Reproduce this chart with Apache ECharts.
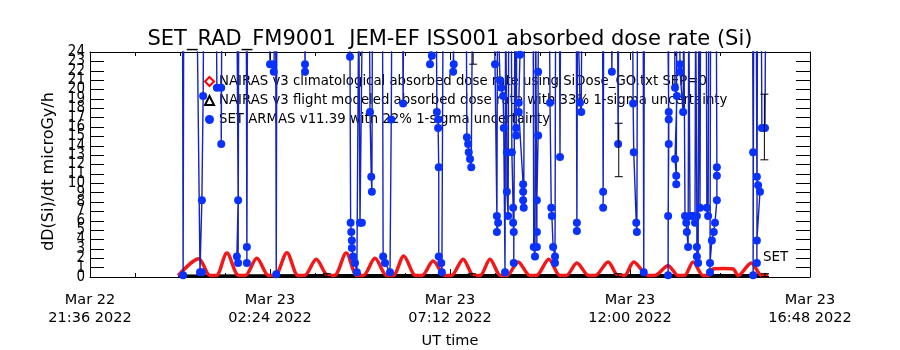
<!DOCTYPE html>
<html>
<head>
<meta charset="utf-8">
<script src="https://cdn.jsdelivr.net/npm/echarts@6/dist/echarts.min.js"></script>
<style>
  html, body { margin: 0; padding: 0; background: #fff; }
  #chart { width: 900px; height: 350px; }
</style>
</head>
<body>
<div id="chart"></div>
<script>
// times are UT clock, Mar 22 if hour >= 21, otherwise Mar 23
const titleText = 'SET_RAD_FM9001  JEM-EF ISS001 absorbed dose rate (Si)'
const climName = 'NAIRAS v3 climatological absorbed dose rate using SiDose_GO.txt SEP=0'
const flightName = 'NAIRAS v3 flight modeled absorbed dose rate with 33% 1-sigma uncertainty'
const setName = 'SET ARMAS v11.39 with 22% 1-sigma uncertainty'

const yMax = 24

// NAIRAS climatological (red humps)
const climTimes = ['23:57', '00:30', '00:48', '00:58', '01:15', '01:34', '01:44', '02:03', '02:22', '02:32',
  '02:51', '03:09', '03:19', '03:38', '03:57', '04:07', '04:26', '04:43', '04:53', '05:12',
  '05:31', '05:41', '05:58', '06:17', '06:27', '06:45', '07:04', '07:14', '07:33', '07:50',
  '08:00', '08:16', '08:33', '08:43', '09:01', '09:20', '09:30', '09:50', '10:08', '10:18',
  '10:35', '10:54', '11:04', '11:25', '11:41', '11:51', '12:06', '12:29', '12:39', '13:01',
  '13:17', '13:27', '13:41', '13:57', '14:05', '14:13', '14:29', '14:45', '14:53', '15:14',
  '15:31', '15:41']
const climValues = [0.15, 1.95, 0.15, 0.15, 2.55, 0.15, 0.15, 2.0, 0.15, 0.15,
  2.6, 0.15, 0.15, 1.9, 0.15, 0.15, 2.55, 0.15, 0.15, 2.0,
  0.15, 0.15, 2.25, 0.15, 0.15, 1.7, 0.15, 0.15, 1.9, 0.15,
  0.15, 1.9, 0.15, 0.15, 1.6, 0.15, 0.15, 1.9, 0.15, 0.15,
  1.5, 0.15, 0.15, 1.6, 0.15, 0.15, 1.6, 0.15, 0.15, 1.2,
  0.15, 0.15, 1.6, 0.15, 0.15, 0.85, 0.9, 0.85, 0.15, 1.5,
  0.15, 0.15]

// NAIRAS flight modeled (near zero)
const flightTimes = ['23:57', '03:55', '07:47', '11:41', '15:36', '15:41']
const flightValues = [0.1, 0.15, 0.15, 0.15, 0.15, 0.1]

// SET ARMAS, values above 24 are off scale
const setPoints = [
  ['00:04', 30], ['00:05', 0.2], ['00:06', 30],
  ['00:27', 30], ['00:32', 0.5], ['00:35', 0.5], ['00:35', 8.2], ['00:37', 19.3], ['00:38', 30],
  ['00:58', 30], ['00:59', 20.2], ['01:06', 20.2], ['01:06', 14.2], ['01:07', 30],
  ['01:31', 30], ['01:33', 8.2], ['01:31', 2.2], ['01:33', 1.5], ['01:34', 30],
  ['01:46', 30], ['01:47', 3.2], ['01:47', 1.5], ['01:48', 30],
  ['02:22', 30], ['02:24', 22.7], ['02:29', 22.7], ['02:30', 21.9], ['02:33', 30], ['02:34', 0.3], ['02:35', 30],
  ['03:19', 30], ['03:20', 22.7], ['03:20', 21.9], ['03:21', 30],
  ['04:31', 30], ['04:32', 23.5], ['04:33', 5.8], ['04:34', 4.8], ['04:35', 3.9], ['04:35', 3.1], ['04:37', 2.2], ['04:40', 1.5], ['04:43', 0.5], ['04:46', 30],
  ['04:47', 30], ['04:48', 5.8], ['04:51', 5.8], ['04:52', 30],
  ['05:03', 30], ['05:04', 17.6], ['05:06', 10.7], ['05:07', 9.1], ['05:08', 30],
  ['05:24', 30], ['05:25', 2.2], ['05:28', 1.5], ['05:36', 0.5], ['05:38', 16.8], ['05:39', 30],
  ['05:56', 30], ['05:57', 18.5], ['05:58', 30],
  ['06:40', 30], ['06:43', 23.6], ['06:40', 22.7], ['06:41', 30],
  ['06:50', 30], ['06:51', 17.6], ['06:53', 16.8], ['06:53', 15.9], ['06:54', 11.7], ['06:54', 2.2], ['06:58', 1.5], ['06:59', 0.5], ['07:01', 30],
  ['07:16', 30], ['07:18', 22.7], ['07:17', 21.9], ['07:19', 30],
  ['07:38', 30], ['07:39', 14.9], ['07:41', 14.2], ['07:42', 13.3], ['07:44', 12.6], ['07:46', 11.7], ['07:48', 30],
  ['08:22', 30], ['08:24', 22.7], ['08:27', 6.5], ['08:29', 5.8], ['08:27', 4.8], ['08:28', 30],
  ['08:31', 30], ['08:32', 21.0], ['08:34', 20.2], ['08:37', 19.3], ['08:38', 15.9], ['08:40', 0.5], ['08:41', 30],
  ['08:42', 30], ['08:43', 13.3], ['08:43', 9.1], ['08:45', 6.5], ['08:46', 30],
  ['08:50', 30], ['08:51', 13.3], ['08:53', 7.4], ['08:53', 5.8], ['08:54', 4.8], ['08:54', 1.5], ['08:56', 30],
  ['08:57', 30], ['08:58', 15.9], ['08:58', 15.1], ['08:59', 30],
  ['09:03', 30], ['09:04', 23.7], ['09:02', 18.6], ['09:02', 17.6], ['09:09', 9.9], ['09:09', 9.1], ['09:09', 8.2], ['09:10', 7.4], ['09:11', 30],
  ['09:25', 30], ['09:26', 3.2], ['09:28', 2.2], ['09:29', 30],
  ['09:30', 30], ['09:31', 3.2], ['09:31', 4.8], ['09:31', 8.2], ['09:33', 15.1], ['09:33', 21.9], ['09:34', 30],
  ['09:51', 30], ['09:52', 18.6], ['09:54', 7.4], ['09:55', 6.5], ['09:57', 3.2], ['10:00', 2.2], ['10:00', 1.5], ['10:01', 30],
  ['10:07', 30], ['10:08', 12.8], ['10:09', 30],
  ['10:34', 30], ['10:35', 5.8], ['10:35', 4.9], ['10:36', 30],
  ['10:39', 30], ['10:40', 18.6], ['10:42', 17.6], ['10:43', 30],
  ['11:16', 30], ['11:17', 9.1], ['11:17', 7.4], ['11:18', 30],
  ['11:30', 30], ['11:31', 21.9], ['11:32', 30],
  ['11:40', 30], ['11:41', 14.2], ['11:42', 30],
  ['12:04', 30], ['12:05', 18.5], ['12:06', 13.3], ['12:10', 5.8], ['12:11', 4.8], ['12:12', 30],
  ['12:21', 30], ['12:22', 0.5], ['12:23', 30],
  ['13:00', 30], ['13:02', 17.6], ['13:02', 16.8], ['13:02', 14.2], ['13:01', 6.5], ['13:01', 0.2], ['13:02', 30],
  ['13:11', 30], ['13:12', 20.2], ['13:15', 19.3], ['13:12', 12.6], ['13:14', 10.8], ['13:14', 9.9], ['13:15', 30],
  ['13:19', 30], ['13:20', 22.7], ['13:20', 21.9], ['13:25', 17.6], ['13:26', 30],
  ['13:27', 30], ['13:28', 6.5], ['13:30', 5.8], ['13:31', 4.8], ['13:33', 3.2], ['13:34', 30],
  ['13:35', 30], ['13:36', 6.5], ['13:41', 6.5], ['13:44', 5.8], ['13:45', 30],
  ['13:46', 30], ['13:47', 6.5], ['13:47', 3.2], ['13:47', 2.2], ['13:49', 1.5], ['13:50', 30],
  ['13:51', 30], ['13:52', 7.4], ['13:53', 30],
  ['14:02', 30], ['14:03', 7.4], ['14:05', 6.5], ['14:06', 30],
  ['14:18', 30], ['14:19', 11.7], ['14:19', 10.8], ['14:19', 8.2], ['14:16', 5.8], ['14:14', 4.8], ['14:11', 3.9], ['14:08', 1.5], ['14:08', 0.5], ['14:09', 30],
  ['15:16', 30], ['15:17', 13.3], ['15:17', 0.2], ['15:18', 30],
  ['15:22', 30], ['15:23', 10.7], ['15:25', 9.8], ['15:28', 9.1], ['15:23', 3.9], ['15:23', 1.5], ['15:24', 30],
  ['15:30', 30], ['15:31', 15.9], ['15:36', 15.9], ['15:37', 30]
]

// 1-sigma error bars: time, low, high
const errTimes = ['03:55', '07:47', '07:49', '11:41', '11:42', '15:36', '15:35']
const errLow = [0.05, 0.05, 22.7, 0.05, 10.7, 0.05, 12.5]
const errHigh = [0.35, 0.35, 30, 0.35, 16.4, 0.35, 19.5]

const startUTC = Date.UTC(2022, 2, 22, 21, 36)
const months = ['Jan', 'Feb', 'Mar', 'Apr', 'May', 'Jun', 'Jul', 'Aug', 'Sep', 'Oct', 'Nov', 'Dec']

function toMin(s) {
  const h = +s.slice(0, 2)
  const m = +s.slice(3, 5)
  const day = h >= 21 ? 0 : 1
  return day * 1440 + h * 60 + m - (21 * 60 + 36)
}
function pad(n) { return (n < 10 ? '0' : '') + n }
function timeLabel(v) {
  const d = new Date(startUTC + v * 60000)
  return months[d.getUTCMonth()] + ' ' + d.getUTCDate() + '\n' +
    pad(d.getUTCHours()) + ':' + pad(d.getUTCMinutes()) + ' ' + d.getUTCFullYear()
}

const font = 'DejaVu Sans'
const narrow = '"DejaVu Sans Condensed", "DejaVu Sans"'
const chart = echarts.init(document.getElementById('chart'))

const xBase = {
  type: 'value',
  min: 0,
  max: 1152,
  interval: 288,
  axisLine: { show: true, onZero: false, lineStyle: { color: '#000', width: 1 } },
  axisTick: { show: true, inside: true, length: 8, lineStyle: { color: '#000' } },
  minorTick: { show: true, splitNumber: 4, length: 4, lineStyle: { color: '#000' } },
  splitLine: { show: false }
}
const yBase = {
  type: 'value',
  min: 0,
  max: yMax,
  interval: 1,
  axisLine: { show: true, onZero: false, lineStyle: { color: '#000', width: 1 } },
  axisTick: { show: true, inside: true, length: 14, lineStyle: { color: '#000' } },
  splitLine: { show: false }
}
// the y labels overlap each other, as in the original; even and odd ones go on two axes
// so that echarts does not drop any of them
function yLabels(keepEven) {
  return {
    margin: 5,
    fontFamily: narrow,
    fontSize: 15,
    color: '#000',
    hideOverlap: false,
    showMinLabel: true,
    showMaxLabel: true,
    formatter: v => ((v % 2 === 0) === keepEven ? String(v) : '')
  }
}

chart.setOption({
  animation: false,
  backgroundColor: '#fff',
  title: {
    text: titleText,
    left: 'center',
    top: 24,
    textStyle: { fontFamily: font, fontSize: 21, fontWeight: 'normal', color: '#000' }
  },
  grid: { left: 90, right: 90, top: 52, bottom: 73, outerBoundsMode: 'none', containLabel: false },
  legend: {
    orient: 'vertical',
    left: 199,
    top: 70,
    itemGap: 6,
    itemWidth: 9,
    itemHeight: 9,
    selectedMode: false,
    textStyle: { fontFamily: font, fontSize: 13.3, color: '#000' },
    data: [
      { name: climName, icon: 'emptyDiamond' },
      { name: flightName, icon: 'emptyTriangle' },
      { name: setName, icon: 'circle' }
    ]
  },
  xAxis: [
    Object.assign({}, xBase, {
      position: 'bottom',
      name: 'UT time',
      nameLocation: 'middle',
      nameGap: 57,
      nameTextStyle: { fontFamily: font, fontSize: 14.5, color: '#000' },
      axisLabel: {
        margin: 14,
        fontFamily: font,
        fontSize: 14.5,
        lineHeight: 18,
        color: '#000',
        formatter: timeLabel
      }
    }),
    Object.assign({}, xBase, { position: 'top', axisLabel: { show: false } })
  ],
  yAxis: [
    Object.assign({}, yBase, {
      position: 'left',
      name: 'dD(Si)/dt microGy/h',
      nameLocation: 'middle',
      nameGap: 28,
      nameTextStyle: { fontFamily: font, fontSize: 16, color: '#000', padding: [0, 14, 0, 0] },
      axisLabel: yLabels(true)
    }),
    Object.assign({}, yBase, { position: 'right', axisLabel: { show: false } }),
    Object.assign({}, yBase, {
      position: 'left',
      axisLine: { show: false },
      axisTick: { show: false },
      axisLabel: yLabels(false)
    })
  ],
  graphic: [{
    type: 'text',
    left: 763,
    top: 250,
    style: { text: 'SET', fontFamily: font, fontSize: 13.5, fill: '#000' }
  }],
  series: [
    {
      name: flightName,
      type: 'line',
      data: flightTimes.map((t, i) => [toMin(t), flightValues[i]]),
      symbol: 'emptyTriangle',
      symbolSize: 0,
      color: '#000',
      lineStyle: { color: '#000', width: 3 },
      z: 2
    },
    {
      name: climName,
      type: 'line',
      data: climTimes.map((t, i) => [toMin(t), climValues[i]]),
      smooth: 0.3,
      symbol: 'emptyDiamond',
      symbolSize: 0,
      color: '#ff0000',
      lineStyle: { color: '#f01818', width: 3.5 },
      z: 3
    },
    {
      name: setName,
      type: 'line',
      data: setPoints.map(p => [toMin(p[0]), p[1]]),
      clip: true,
      symbol: 'circle',
      symbolSize: v => (v[1] > yMax ? 0 : 8),
      color: '#0a32ff',
      itemStyle: { color: '#0a32ff' },
      lineStyle: { color: '#1424c0', width: 1.4 },
      z: 4
    },
    {
      name: 'err',
      type: 'custom',
      clip: true,
      data: errTimes.map((t, i) => [toMin(t), errLow[i], errHigh[i]]),
      encode: { x: 0, y: [1, 2] },
      renderItem: (params, api) => {
        const lo = api.coord([api.value(0), api.value(1)])
        const hi = api.coord([api.value(0), api.value(2)])
        const w = 4
        const st = { stroke: '#000', lineWidth: 1 }
        return {
          type: 'group',
          children: [
            { type: 'line', shape: { x1: lo[0], y1: lo[1], x2: hi[0], y2: hi[1] }, style: st },
            { type: 'line', shape: { x1: lo[0] - w, y1: lo[1], x2: lo[0] + w, y2: lo[1] }, style: st },
            { type: 'line', shape: { x1: hi[0] - w, y1: hi[1], x2: hi[0] + w, y2: hi[1] }, style: st }
          ]
        }
      },
      z: 5
    }
  ]
})
</script>
</body>
</html>
